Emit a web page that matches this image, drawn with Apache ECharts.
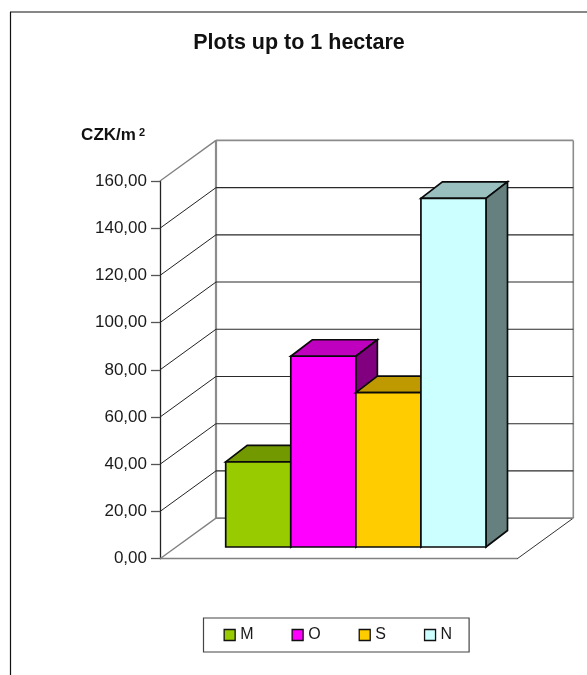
<!DOCTYPE html>
<html><head><meta charset="utf-8">
<style>html,body{margin:0;padding:0;background:#fff}#c{width:587px;height:675px}</style>
<script src="https://cdn.jsdelivr.net/npm/echarts@6/dist/echarts.min.js"></script>
</head><body><div id="c"></div>
<script>
const categories = ['M', 'O', 'S', 'N'];
const values = [36.1, 80.8, 65.4, 147.7];
const colors = ['#99CC00', '#FF00FF', '#FFCC00', '#CCFFFF'];
const topColors = ['#739900', '#BF00BF', '#BF9900', '#99BFBF'];
const sideColors = ['#4D6600', '#800080', '#806600', '#668080'];
const yTicks = [0, 20, 40, 60, 80, 100, 120, 140, 160];
const xMin = -0.764, xMax = 4.727;
const wallDepth = [56, -40.6];
const barOffset = [16, -11.7];
const barDepth = [21.5, -16.5];

const add = (p, d) => [p[0] + d[0], p[1] + d[1]];
const font = 'Liberation Sans, Arial, sans-serif';

function line(a, b, stroke, lineWidth) {
  return { type: 'line', shape: { x1: a[0], y1: a[1], x2: b[0], y2: b[1] }, style: { stroke, lineWidth, fill: null } };
}
function poly(points, fill) {
  return { type: 'polygon', shape: { points }, style: { fill, stroke: '#0a0a0a', lineWidth: 1.7, lineJoin: 'miter' } };
}

function renderWall(params, api) {
  const t = api.value(0);
  const front = api.coord([xMin, t]);
  const back = add(front, wallDepth);
  const backR = add(api.coord([xMax, t]), wallDepth);
  const children = [];
  if (t === 0) {
    const top = add(api.coord([xMin, 160]), wallDepth);
    const topR = add(api.coord([xMax, 160]), wallDepth);
    children.push(line(back, top, '#8c8c8c', 2.2));
    children.push(line(backR, topR, '#8c8c8c', 1.6));
    children.push(line(front, back, '#808080', 1.3));
    children.push(line(api.coord([xMax, 0]), backR, '#333', 1));
    children.push(line(back, backR, '#808080', 1.6));
  } else if (t === 160) {
    children.push(line(front, back, '#808080', 1.3));
    children.push(line(back, backR, '#8c8c8c', 1.6));
  } else {
    children.push(line(front, back, '#222', 1));
    children.push(line(back, backR, '#2a2a2a', 1.1));
  }
  return { type: 'group', children };
}

function renderBar(i) {
  return function (params, api) {
    const x = api.value(0), v = api.value(1);
    const bl = add(api.coord([x, 0]), barOffset);
    const br = add(api.coord([x + 1, 0]), barOffset);
    const tl = add(api.coord([x, v]), barOffset);
    const tr = add(api.coord([x + 1, v]), barOffset);
    return {
      type: 'group',
      children: [
        poly([tl, tr, add(tr, barDepth), add(tl, barDepth)], topColors[i]),
        poly([tr, br, add(br, barDepth), add(tr, barDepth)], sideColors[i]),
        poly([tl, tr, br, bl], colors[i])
      ]
    };
  };
}

const series = [{
  name: 'walls', type: 'custom', renderItem: renderWall, silent: true, z: 1,
  encode: { y: 0 },
  data: yTicks.map(t => [t])
}];
categories.forEach((name, i) => {
  series.push({
    name, type: 'custom', z: 3 + i, renderItem: renderBar(i),
    itemStyle: { color: colors[i] },
    encode: { x: 0, y: 1 },
    data: [[i, values[i]]]
  });
});

const chart = echarts.init(document.getElementById('c'), null, { renderer: 'canvas' });
chart.setOption({
  animation: false,
  backgroundColor: '#fff',
  title: {
    text: 'Plots up to 1 hectare', left: 294, top: 27, textAlign: 'center',
    textStyle: { fontFamily: font, fontSize: 21.5, fontWeight: 'bold', color: '#111' }
  },
  grid: { left: 160, top: 181, width: 357.3, height: 377.7 },
  xAxis: {
    type: 'value', min: xMin, max: xMax,
    axisLabel: { show: false }, axisTick: { show: false }, splitLine: { show: false },
    axisLine: { show: true, onZero: false, lineStyle: { color: '#808080', width: 1.4 } }
  },
  yAxis: {
    type: 'value', min: 0, max: 160, interval: 20,
    splitLine: { show: false },
    axisLine: { show: true, onZero: false, lineStyle: { color: '#222', width: 1.3 } },
    axisTick: { show: true, length: 9, lineStyle: { color: '#555', width: 1.3 } },
    axisLabel: {
      margin: 13, fontFamily: font, fontSize: 17, color: '#1a1a1a',
      formatter: v => v.toFixed(2).replace('.', ',')
    },
    name: 'CZK/m{s|2}', nameLocation: 'end', nameGap: 37,
    nameTextStyle: {
      fontFamily: font, fontSize: 17, fontWeight: 'bold', color: '#111', align: 'right', padding: [0, 15, 0, 0],
      rich: { s: { fontFamily: font, fontSize: 11, fontWeight: 'bold', color: '#111', verticalAlign: 'top', padding: [0, 0, 5, 3] } }
    }
  },
  legend: {
    data: categories, orient: 'horizontal', left: 203.5, top: 618,
    padding: [9, 17, 9, 20], itemGap: 38, itemWidth: 11, itemHeight: 11,
    backgroundColor: '#fff', borderColor: '#444', borderWidth: 1.2, borderRadius: 0,
    icon: 'rect', selectedMode: false,
    itemStyle: { borderColor: '#111', borderWidth: 1.3 },
    textStyle: { fontFamily: font, fontSize: 16, color: '#1a1a1a', padding: [0, 0, 5, 0] }
  },
  graphic: [
    { type: 'line', shape: { x1: 10.5, y1: 12, x2: 10.5, y2: 675 }, style: { stroke: '#111', lineWidth: 1.2 } },
    { type: 'line', shape: { x1: 10, y1: 12, x2: 587, y2: 12 }, style: { stroke: '#111', lineWidth: 1.2 } }
  ],
  series
});
</script></body></html>
